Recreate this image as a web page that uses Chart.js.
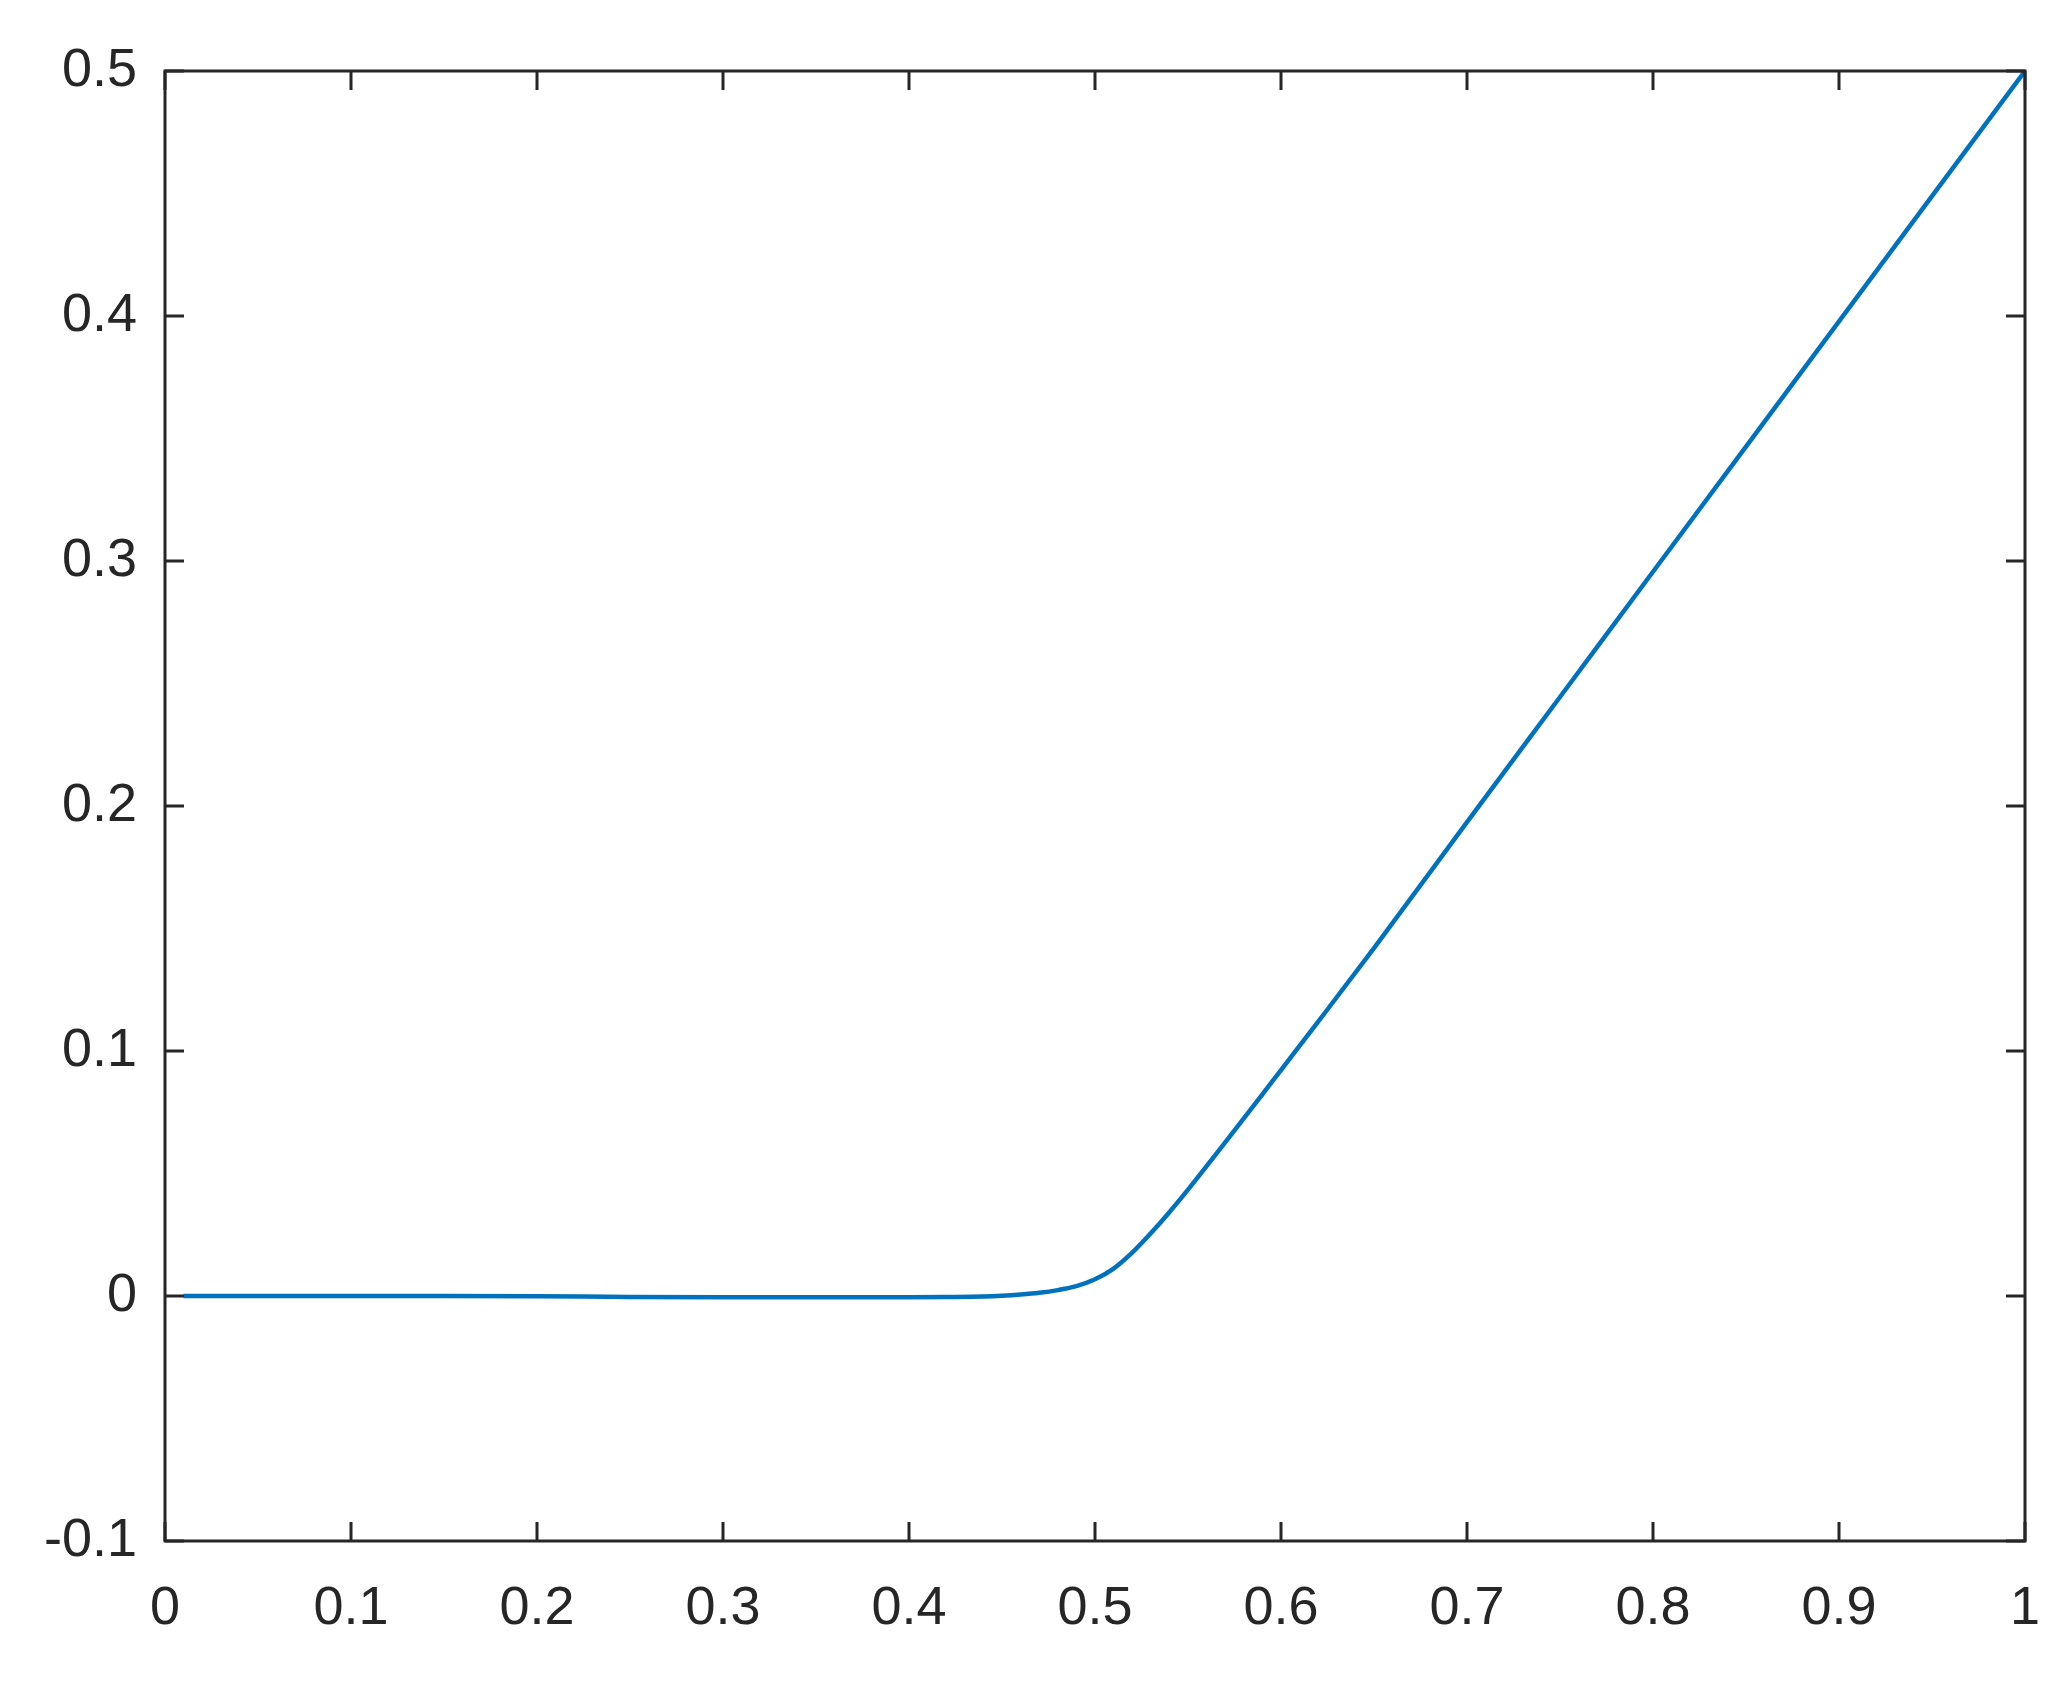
<!DOCTYPE html>
<html>
<head>
<meta charset="utf-8">
<script src="https://cdn.jsdelivr.net/npm/chart.js@4/dist/chart.umd.min.js"></script>
<style>
  html, body { margin: 0; padding: 0; background: #fff; }
  #wrap { width: 2051px; height: 1690px; }
</style>
</head>
<body>
<div id="wrap"><canvas id="c" width="2051" height="1690"></canvas></div>
<script>
// values
const xs = [0.01, 0.05, 0.1, 0.15, 0.2, 0.25, 0.3, 0.35, 0.4, 0.42, 0.44, 0.45, 0.46, 0.47, 0.48, 0.49,
            0.50, 0.51, 0.52, 0.53, 0.54, 0.55, 0.56, 0.57, 0.58, 0.59, 0.60, 0.62, 0.65, 0.70,
            0.75, 0.80, 0.85, 0.90, 0.95, 1.0];
const ys = [0, 0, 0, 0, -0.0001, -0.0004, -0.0005, -0.0005, -0.0005, -0.0004, -0.0002, 0.0001, 0.0006, 0.0013, 0.0024, 0.0040,
            0.0068, 0.0112, 0.0177, 0.0256, 0.0342, 0.0434, 0.0530, 0.0627, 0.0725, 0.0823, 0.0922, 0.1120, 0.1420, 0.1934,
            0.2445, 0.2956, 0.3467, 0.3978, 0.4489, 0.5];
const xTicks = [0, 0.1, 0.2, 0.3, 0.4, 0.5, 0.6, 0.7, 0.8, 0.9, 1];
const yTicks = [-0.1, 0, 0.1, 0.2, 0.3, 0.4, 0.5];

const axisColor = '#262626';
const fontSpec = { family: '"Liberation Sans", Arial, sans-serif', size: 54 };
const fmt = v => String(Number(v.toFixed(1)));

// box around the plot + inward tick marks on all four sides
const boxTicks = {
    id: 'boxTicks',
    afterDraw(chart) {
        const { ctx, chartArea: a, scales } = chart;
        const len = 19;
        ctx.save();
        ctx.strokeStyle = axisColor;
        ctx.lineWidth = 3;
        ctx.beginPath();
        xTicks.forEach(t => {
            const px = scales.x.getPixelForValue(t);
            ctx.moveTo(px, a.bottom); ctx.lineTo(px, a.bottom - len);
            ctx.moveTo(px, a.top); ctx.lineTo(px, a.top + len);
        });
        yTicks.forEach(t => {
            const py = scales.y.getPixelForValue(t);
            ctx.moveTo(a.left, py); ctx.lineTo(a.left + len, py);
            ctx.moveTo(a.right, py); ctx.lineTo(a.right - len, py);
        });
        ctx.stroke();
        ctx.strokeRect(a.left, a.top, a.right - a.left, a.bottom - a.top);
        ctx.restore();
    }
};

new Chart(document.getElementById('c'), {
    type: 'line',
    data: {
        datasets: [{
            data: xs.map((x, i) => ({ x, y: ys[i] })),
            borderColor: '#0072BD',
            borderWidth: 4.5,
            pointRadius: 0,
            cubicInterpolationMode: 'monotone',
            fill: false
        }]
    },
    options: {
        responsive: false,
        animation: false,
        layout: { padding: { left: 0, right: 0, top: 71, bottom: 0 } },
        plugins: { legend: { display: false }, tooltip: { enabled: false } },
        scales: {
            x: {
                type: 'linear', min: 0, max: 1,
                afterBuildTicks: s => { s.ticks = xTicks.map(v => ({ value: v })); },
                afterFit: s => { s.height = 149; s.paddingRight = 26; },
                grid: { display: false, drawTicks: false },
                border: { display: false },
                ticks: { color: axisColor, font: fontSpec, padding: 36, maxRotation: 0, autoSkip: false, callback: fmt }
            },
            y: {
                type: 'linear', min: -0.1, max: 0.5,
                afterBuildTicks: s => { s.ticks = yTicks.map(v => ({ value: v })); },
                afterFit: s => { s.width = 165; },
                grid: { display: false, drawTicks: false },
                border: { display: false },
                ticks: { color: axisColor, font: fontSpec, padding: 28, autoSkip: false, callback: fmt }
            }
        }
    },
    plugins: [boxTicks]
});
</script>
</body>
</html>
